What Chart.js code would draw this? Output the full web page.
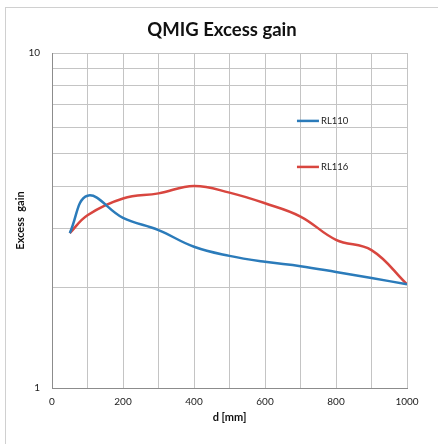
<!DOCTYPE html>
<html>
<head>
<meta charset="utf-8">
<script src="https://cdn.jsdelivr.net/npm/chart.js@4/dist/chart.umd.min.js"></script>
<style>
html,body{margin:0;padding:0;background:#fff;}
#wrap{position:relative;width:438px;height:444px;overflow:hidden;background:#fff;}
#frame{position:absolute;left:5px;top:7px;width:450px;height:460px;border-left:1px solid #d0d0d0;border-top:1px solid #d0d0d0;box-sizing:border-box;}
#c{position:absolute;left:0;top:0;}
</style>
</head>
<body>
<div id="wrap"><div id="frame"></div><canvas id="c" width="438" height="444"></canvas></div>
<script>
const distances = [50, 100, 200, 300, 400, 500, 600, 700, 800, 900, 1000];
const rl110 = [2.90, 3.75, 3.22, 2.96, 2.64, 2.48, 2.38, 2.31, 2.22, 2.13, 2.04];
const rl116 = [2.90, 3.28, 3.68, 3.81, 4.01, 3.83, 3.56, 3.25, 2.77, 2.58, 2.04];
const seriesNames = ['RL110', 'RL116'];
const xLabels = [0, 200, 400, 600, 800, 1000];
const yLabels = [1, 10];

const FONT = 'Lato, "Open Sans", "Liberation Sans", sans-serif';
const toPts = (xs, ys) => xs.map((x, i) => ({x: x, y: ys[i]}));

const legendPlugin = {
  id: 'insideLegend',
  afterDraw(chart) {
    const ctx = chart.ctx;
    const xs = chart.scales.x, ys = chart.scales.y;
    const spots = [{x: 752, y: 6.27}, {x: 752, y: 4.57}];
    chart.data.datasets.forEach((ds, i) => {
      const px = xs.getPixelForValue(spots[i].x);
      const py = ys.getPixelForValue(spots[i].y);
      ctx.save();
      ctx.strokeStyle = ds.borderColor;
      ctx.lineWidth = 2.5;
      ctx.beginPath();
      ctx.moveTo(px - 22, py);
      ctx.lineTo(px, py);
      ctx.stroke();
      ctx.fillStyle = '#222';
      ctx.font = '9.5px ' + FONT;
      ctx.textBaseline = 'middle';
      ctx.textAlign = 'left';
      ctx.fillText(ds.label, px + 2, py);
      ctx.restore();
    });
  }
};

new Chart(document.getElementById('c'), {
  type: 'line',
  data: {
    datasets: [
      {label: seriesNames[0], data: toPts(distances, rl110), borderColor: '#2b7bba', borderWidth: 2.5, pointRadius: 0, tension: 0.4, fill: false},
      {label: seriesNames[1], data: toPts(distances, rl116), borderColor: '#d8463f', borderWidth: 2.5, pointRadius: 0, tension: 0.4, fill: false}
    ]
  },
  options: {
    responsive: false,
    animation: false,
    devicePixelRatio: 1,
    layout: {padding: {left: 6, right: 0, top: 10, bottom: 0}},
    plugins: {
      legend: {display: false},
      tooltip: {enabled: false},
      title: {
        display: true,
        text: 'QMIG Excess gain',
        color: '#111',
        font: {family: FONT, size: 18.5, weight: 'bold'},
        padding: {top: 8.7, bottom: 12.1}
      }
    },
    scales: {
      x: {
        type: 'linear',
        min: 0, max: 1000,
        afterFit(s) { s.height = 56; },
        grid: {color: '#c4c4c4', lineWidth: 1, drawTicks: false},
        border: {color: '#8c8c8c', width: 1},
        ticks: {
          stepSize: 100, autoSkip: false, maxRotation: 0, padding: 8,
          color: '#222', font: {family: FONT, size: 10},
          callback: v => xLabels.includes(v) ? String(v) : ''
        },
        title: {display: true, text: 'd [mm]', color: '#111', font: {family: FONT, size: 11, weight: 'bold'}, padding: {top: 2.4, bottom: 20.4}}
      },
      y: {
        type: 'logarithmic',
        min: 1, max: 10,
        afterFit(s) { s.width = 46; },
        grid: {
          color: ctx => (ctx.tick && ctx.tick.value === 1) ? 'rgba(0,0,0,0)' : '#c4c4c4',
          lineWidth: 1, drawTicks: false
        },
        border: {color: '#8c8c8c', width: 1},
        ticks: {
          autoSkip: false, padding: 12,
          color: '#222', font: {family: FONT, size: 10},
          callback: v => yLabels.includes(v) ? String(v) : ''
        },
        afterBuildTicks(s) {
          s.ticks = [1,2,3,4,5,6,7,8,9,10].map(v => ({value: v}));
        },
        title: {display: true, text: 'Excess  gain', color: '#111', font: {family: FONT, size: 11, weight: 'bold'}, padding: {top: 7.4, bottom: 0}}
      },
      yRight: {
        type: 'linear',
        position: 'right',
        display: true,
        afterFit(s) { s.width = 31; },
        grid: {display: false, drawTicks: false},
        border: {display: false},
        ticks: {display: false}
      }
    }
  },
  plugins: [legendPlugin]
});
</script>
</body>
</html>
